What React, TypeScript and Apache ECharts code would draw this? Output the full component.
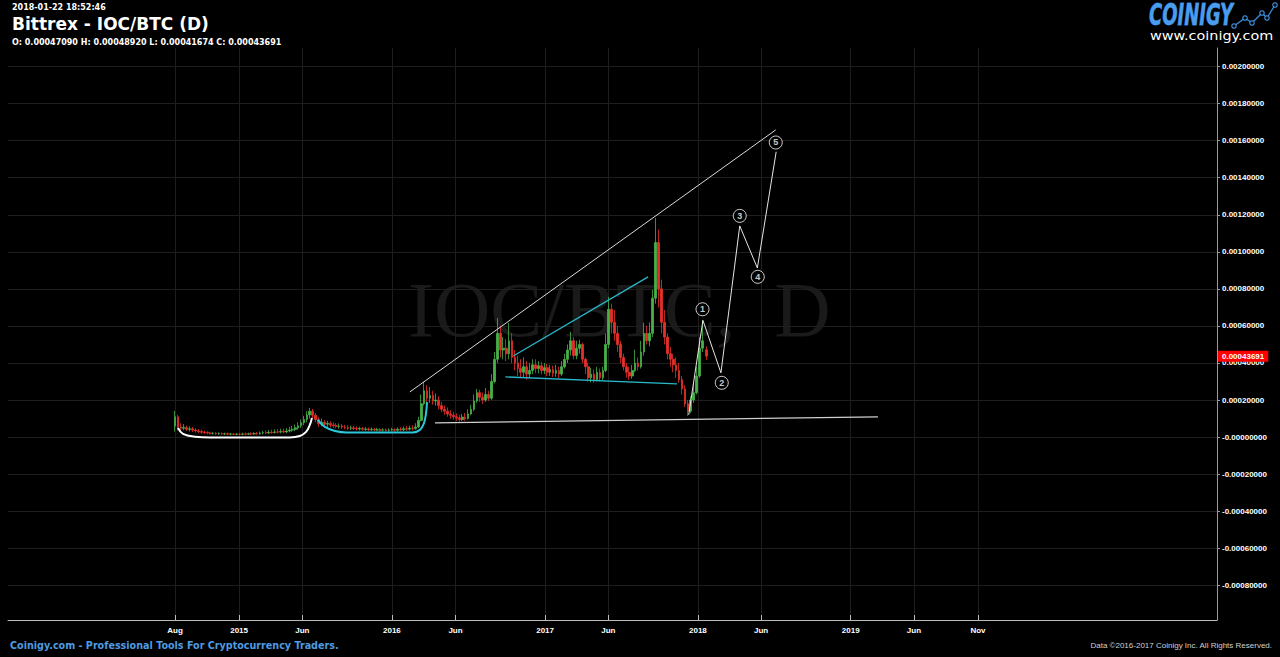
import { useEffect, useRef } from "react";
import * as echarts from "echarts";

// ---------- data (prices in µBTC = 1e-6 BTC) ----------
const startDate = "2014-08-01"; // first weekly candle
const lastCandleDate = "2018-01-22"; // last (daily) candle
// weekly candles [open, close, low, high]
const candleOCLH: number[][] = [
  [60, 110, 30, 141], [110, 55, 35, 120], [55, 48, 35, 75], [48, 52, 38, 70], [52, 42, 34, 62],
  [42, 45, 30, 58], [45, 38, 28, 55], [38, 34, 25, 48], [34, 30, 22, 44], [30, 26, 18, 40],
  [26, 24, 16, 36], [24, 22, 15, 32], [22, 20, 14, 30], [20, 21, 13, 28], [21, 18, 12, 27],
  [18, 19, 12, 26], [19, 17, 11, 25], [17, 18, 11, 24], [18, 16, 10, 25], [16, 17, 10, 23],
  [17, 15, 10, 22], [15, 16, 10, 22], [16, 15, 9, 23], [15, 17, 10, 24], [17, 16, 10, 25],
  [16, 18, 11, 24], [18, 17, 11, 26], [17, 19, 12, 27], [19, 18, 12, 28], [18, 22, 13, 30],
  [22, 24, 15, 34], [24, 22, 16, 36], [22, 26, 17, 38], [26, 25, 18, 40], [25, 28, 19, 42],
  [28, 27, 20, 44], [27, 30, 20, 45], [30, 28, 21, 46], [28, 33, 22, 48], [33, 38, 25, 55],
  [38, 42, 28, 60], [42, 50, 32, 68], [50, 62, 40, 80], [62, 78, 50, 95], [78, 95, 65, 115],
  [95, 120, 80, 140], [120, 140, 100, 158], [140, 118, 100, 152], [118, 95, 80, 130], [95, 72, 55, 110],
  [72, 80, 58, 100], [80, 70, 55, 92], [70, 74, 55, 88], [74, 66, 52, 85], [66, 62, 50, 80],
  [62, 58, 48, 75], [58, 60, 46, 74], [60, 54, 44, 70], [54, 52, 42, 66], [52, 48, 40, 64],
  [48, 50, 38, 62], [50, 46, 38, 60], [46, 44, 36, 58], [44, 46, 36, 56], [46, 42, 35, 55],
  [42, 44, 34, 54], [44, 40, 33, 52], [40, 42, 33, 52], [42, 38, 32, 50], [38, 40, 32, 50],
  [40, 37, 30, 48], [37, 39, 30, 48], [39, 36, 30, 46], [36, 38, 30, 47], [38, 40, 31, 50],
  [40, 37, 30, 48], [37, 42, 31, 52], [42, 40, 32, 54], [40, 45, 33, 58], [45, 43, 34, 60],
  [43, 48, 36, 62], [48, 46, 36, 64], [46, 55, 40, 75], [55, 90, 50, 110], [90, 180, 85, 230],
  [180, 250, 170, 299], [250, 210, 180, 280], [210, 225, 185, 270], [225, 195, 175, 250], [195, 200, 170, 235],
  [200, 170, 150, 220], [170, 150, 135, 190], [150, 140, 120, 170], [140, 125, 110, 160], [125, 118, 100, 145],
  [118, 110, 95, 135], [110, 104, 88, 128], [104, 95, 84, 120], [95, 108, 86, 125], [108, 100, 88, 130],
  [100, 125, 95, 150], [125, 150, 118, 175], [150, 195, 140, 230], [195, 240, 185, 260], [240, 215, 190, 255],
  [215, 200, 180, 240], [200, 230, 190, 265], [230, 210, 195, 250], [210, 300, 200, 340], [300, 420, 290, 460],
  [420, 560, 400, 643], [560, 470, 430, 600], [470, 480, 420, 540], [480, 450, 410, 530], [450, 520, 420, 617],
  [520, 430, 400, 560], [430, 400, 360, 470], [400, 370, 330, 440], [370, 350, 320, 420], [350, 380, 320, 430],
  [380, 340, 310, 410], [340, 360, 320, 400], [360, 390, 340, 420], [390, 370, 345, 420], [370, 385, 345, 410],
  [385, 360, 340, 405], [360, 375, 340, 400], [375, 350, 330, 395], [350, 365, 330, 390], [365, 345, 325, 385],
  [345, 360, 325, 390], [360, 340, 320, 380], [340, 380, 330, 410], [380, 420, 370, 450], [420, 470, 400, 500],
  [470, 520, 440, 568], [520, 440, 420, 540], [440, 480, 420, 520], [480, 500, 450, 525], [500, 420, 400, 510],
  [420, 380, 340, 430], [380, 320, 300, 400], [320, 340, 295, 375], [340, 310, 293, 365], [310, 350, 300, 379],
  [350, 320, 300, 370], [320, 360, 305, 380], [360, 500, 350, 560], [500, 690, 480, 757], [690, 620, 560, 720],
  [620, 560, 520, 686], [560, 500, 460, 600], [500, 430, 400, 520], [430, 380, 360, 450], [380, 350, 320, 400],
  [350, 330, 309, 380], [330, 360, 315, 390], [360, 400, 350, 471], [400, 380, 360, 430], [380, 460, 370, 520],
  [460, 560, 440, 617], [560, 520, 500, 600], [520, 560, 490, 620], [560, 750, 540, 795], [750, 1050, 720, 1182],
  [1050, 800, 700, 1120], [800, 620, 560, 850], [620, 540, 500, 686], [540, 450, 420, 560], [450, 420, 379, 487],
  [420, 390, 350, 450], [390, 360, 320, 430], [360, 310, 293, 400], [310, 260, 230, 330], [260, 180, 163, 280],
  [180, 140, 114, 200], [140, 200, 130, 220], [200, 240, 185, 293], [240, 330, 230, 380], [330, 480, 320, 540],
  [480, 520, 460, 633], [470.9, 436.9, 416.7, 489.2],
];
const lastClose = 436.91;

// drawn annotations (date, µBTC)
const upperTrend: [string, number][] = [["2016-02-13", 244], ["2018-07-06", 1658]];
const lowerTrend: [string, number][] = [["2016-04-13", 77], ["2019-03-07", 109]];
const cyanUpper: [string, number][] = [["2016-10-17", 438], ["2017-09-04", 865]];
const cyanLower: [string, number][] = [["2016-09-28", 325], ["2017-11-12", 287]];
const whiteBowl: [string, number][] = [
  ["2014-08-08", 50], ["2014-08-20", 17], ["2014-09-18", 2], ["2014-10-23", -1.5],
  ["2015-05-02", -1.5], ["2015-05-26", 6], ["2015-06-10", 28], ["2015-06-19", 66], ["2015-06-24", 104],
];
const cyanBowl: [string, number][] = [
  ["2015-07-08", 93], ["2015-07-25", 55], ["2015-08-18", 33], ["2015-09-16", 25],
  ["2016-02-20", 25], ["2016-03-08", 39], ["2016-03-17", 71], ["2016-03-22", 120], ["2016-03-25", 189],
];
const wavePath: [string, number][] = [
  ["2017-12-10", 120], ["2018-01-13", 630], ["2018-02-25", 347], ["2018-04-11", 1140],
  ["2018-05-23", 913], ["2018-07-07", 1540],
];
const waveLabels = ["1", "2", "3", "4", "5"];
const waveLabelPos: [string, number][] = [
  ["2018-01-12", 690], ["2018-02-27", 293], ["2018-04-11", 1194], ["2018-05-24", 865], ["2018-07-06", 1590],
];

// axes
const xTickDates = ["2014-08-01", "2015-01-01", "2015-06-01", "2016-01-01", "2016-06-01", "2017-01-01",
  "2017-06-01", "2018-01-01", "2018-06-01", "2019-01-01", "2019-06-01", "2019-11-01"];
const xTickLabels = ["Aug", "2015", "Jun", "2016", "Jun", "2017", "Jun", "2018", "Jun", "2019", "Jun", "Nov"];
const yTicks = [-0.0008, -0.0006, -0.0004, -0.0002, 0, 0.0002, 0.0004, 0.0006, 0.0008, 0.001,
  0.0012, 0.0014, 0.0016, 0.0018, 0.002];
const xRange = ["2013-06-28", "2021-05-25"];
const yRange = [-0.000987, 0.0021];

const U = 1e-6;
const DAY = 86400000;
function utc(d: string) {
  const [y, m, dd] = d.split("-").map(Number);
  return Date.UTC(y, m - 1, dd);
}
const pts = (a: [string, number][]) => a.map(([d, v]) => [utc(d), v * U]);

export default function App() {
  const ref = useRef<HTMLDivElement>(null);
  useEffect(() => {
    if (!ref.current) return;
    const chart = echarts.init(ref.current, null, { renderer: "svg" });
    const n = candleOCLH.length;
    const candles = candleOCLH.map((r, i) => [
      i === n - 1 ? utc(lastCandleDate) : utc(startDate) + i * 7 * DAY,
      r[0] * U, r[1] * U, r[2] * U, r[3] * U,
    ]);
    const xTickTimes = xTickDates.map(utc);
    const line = (data: any, color: string, width: number, smooth: number | boolean = false, extra: any = {}) => ({
      type: "line", data, smooth, showSymbol: false, symbol: "none", silent: true, z: 4,
      lineStyle: { color, width }, clip: false, ...extra,
    });
    const fontB = "DejaVu Sans";
    const iconPts = [[1234, 26], [1245, 18], [1252, 23], [1262, 13], [1267, 18], [1275, 5]];
    const priceMark = {
      markLine: {
        silent: true, symbol: "none", animation: false, precision: 10,
        lineStyle: { color: "rgba(0,0,0,0)", width: 1, type: "solid" },
        label: {
          show: true, position: "end", distance: 1, formatter: (lastClose * U).toFixed(8), backgroundColor: "#ff0000",
          color: "#fff", opacity: 1, fontSize: 8, fontWeight: "bold", fontFamily: "Liberation Sans", padding: [2, 4, 1, 4],
        },
        data: [{ yAxis: lastClose * U }],
      },
    };
    chart.setOption({
      animation: false,
      backgroundColor: "#000",
      grid: { left: 8, right: 63, top: 48, bottom: 37, containLabel: false, outerBoundsMode: "none" },
      xAxis: {
        type: "value", min: utc(xRange[0]), max: utc(xRange[1]), scale: true,
        axisLine: { show: true, onZero: false, lineStyle: { color: "#bdbdbd" } },
        axisTick: { show: true, inside: true, length: 5, customValues: xTickTimes, lineStyle: { color: "#bdbdbd" } },
        axisLabel: {
          customValues: xTickTimes, margin: 6, color: "#fff", fontSize: 8, fontWeight: "bold",
          fontFamily: "Liberation Sans",
          formatter: (v: number) => { const k = xTickTimes.indexOf(v); return k >= 0 ? xTickLabels[k] : ""; },
        },
        splitLine: { show: true, lineStyle: { color: "#1e1e1e" } },
      },
      yAxis: {
        type: "value", position: "right", min: yRange[0], max: yRange[1], scale: true,
        axisLine: { show: true, lineStyle: { color: "#9a9a9a" } },
        axisTick: { show: true, inside: false, length: 3, customValues: yTicks, lineStyle: { color: "#9a9a9a" } },
        axisLabel: {
          customValues: yTicks, margin: 5, color: "#fff", fontSize: 8, fontWeight: "bold",
          fontFamily: "Liberation Sans",
          formatter: (v: number) => (Math.abs(v) < 1e-12 ? "-0.00000000" : v.toFixed(8)),
        },
        splitLine: { show: true, lineStyle: { color: "#1e1e1e" } },
      },
      graphic: [
        { type: "text", x: 408, y: 309, z: 0, silent: true,
          style: { text: "IOC/BTC,  D", font: "78px 'Liberation Serif'", fill: "#1a1a1a", verticalAlign: "middle" } },
        { type: "text", x: 12, y: 7.5, style: { text: "2018-01-22 18:52:46", font: `bold 8px '${fontB}'`, fill: "#fff", verticalAlign: "middle" } },
        { type: "text", x: 12, y: 24, style: { text: "Bittrex - IOC/BTC (D)", font: `bold 17px '${fontB}'`, fill: "#fff", verticalAlign: "middle" } },
        { type: "text", x: 12, y: 42, style: { text: "O: 0.00047090 H: 0.00048920 L: 0.00041674 C: 0.00043691", font: `bold 8px '${fontB}'`, fill: "#fff", verticalAlign: "middle" } },
        { type: "text", x: 1149, y: 15, scaleY: 1.7,
          style: { text: "COINIGY", font: `italic bold 18px '${fontB}'`, verticalAlign: "middle", fill: "#4a9cec", stroke: "#2a78cc", lineWidth: 0.5 } },
        { type: "polyline", shape: { points: iconPts },
          style: { stroke: "#3d8fe0", lineWidth: 1.3, fill: null } },
        ...iconPts.map(([cx, cy]) => ({
          type: "circle", shape: { cx, cy, r: 2.2 }, style: { fill: "#000", stroke: "#3d8fe0", lineWidth: 1.2 } })),
        { type: "text", x: 1150, y: 35.5, scaleX: 1.2,
          style: { text: "www.coinigy.com", font: `12px '${fontB}'`, fill: "#fff", verticalAlign: "middle" } },
        { type: "text", x: 10, y: 645.5, style: { text: "Coinigy.com - Professional Tools For Cryptocurrency Traders.", font: `bold 9.6px '${fontB}'`, fill: "#4d9be0", verticalAlign: "middle" } },
        { type: "text", x: 1272, y: 645, style: { text: "Data ©2016-2017 Coinigy Inc. All Rights Reserved.", font: "8px 'Liberation Sans'", fill: "#d0d0d0", verticalAlign: "middle", align: "right" } },
      ],
      series: [
        {
          type: "candlestick", data: candles, encode: { x: 0, y: [1, 2, 3, 4] }, barWidth: 2.2, silent: true, z: 3,
          itemStyle: { color: "#47b147", color0: "#e8302a", borderColor: "#47b147", borderColor0: "#e8302a", borderWidth: 0.8 },
        },
        line(pts(upperTrend), "#d8d8d8", 1),
        line(pts(lowerTrend), "#cfcfcf", 1.2),
        line(pts(cyanUpper), "#29b6c8", 1.3),
        line(pts(cyanLower), "#29b6c8", 1.3),
        line(pts(whiteBowl), "#ffffff", 2, 0.4),
        line(pts(cyanBowl), "#2cc8da", 2, 0.4),
        line(pts(wavePath), "#e6e6e6", 1, false, priceMark),
        {
          type: "scatter", data: pts(waveLabelPos).map((p, i) => ({ value: p, name: waveLabels[i] })),
          symbol: "circle", symbolSize: 13, silent: true, z: 5,
          itemStyle: { color: "#000", borderColor: "#fff", borderWidth: 1 },
          label: { show: true, position: "inside", formatter: (p: any) => p.name, color: "#fff", fontSize: 9, fontWeight: "bold", fontFamily: "Liberation Sans" },
        },
      ],
    });
    return () => chart.dispose();
  }, []);
  return <div ref={ref} style={{ position: "fixed", left: 0, top: 0, width: 1280, height: 657, background: "#000" }} />;
}
